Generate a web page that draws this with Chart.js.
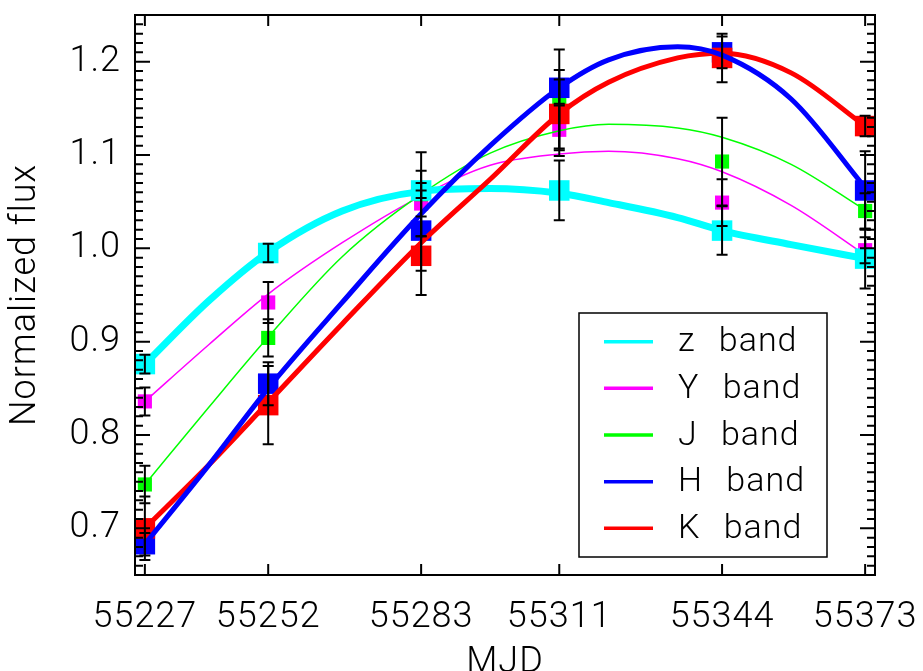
<!DOCTYPE html>
<html>
<head>
<meta charset="utf-8">
<script src="https://cdn.jsdelivr.net/npm/chart.js@4"></script>
<style>
html, body { margin: 0; padding: 0; background: #fff; overflow: hidden; }
#wrap { width: 923px; height: 685px; }
</style>
</head>
<body>
<div id="wrap"><canvas id="grafico"></canvas></div>
<script>
// observation epochs (MJD) and axis ticks
var mjd = [55227, 55252, 55283, 55311, 55344, 55373];
var yTicks = [0.7, 0.8, 0.9, 1.0, 1.1, 1.2];
var bandNames = ['z band', 'Y band', 'J band', 'H band', 'K band'];
var bandColors = ['#00ffff', '#ff00ff', '#00ff00', '#0000ff', '#ff0000'];

// measured normalized flux and errors
var fluxZ = [0.876, 0.995, 1.062, 1.062, 1.019, 0.989];
var fluxY = [0.836, 0.942, 1.048, 1.127, 1.049, 0.998];
var fluxJ = [0.747, 0.904, 1.058, 1.159, 1.093, 1.040];
var fluxH = [0.683, 0.855, 1.019, 1.172, 1.210, 1.062];
var fluxK = [0.700, 0.832, 0.992, 1.144, 1.204, 1.131];
var errZ = [0.010, 0.010, 0.008, 0.032, 0.026, 0.032];
var errY = [0.015, 0.022, 0.035, 0.028, 0.025, 0.014];
var errJ = [0.020, 0.020, 0.045, 0.054, 0.047, 0.019];
var errH = [0.012, 0.023, 0.043, 0.019, 0.017, 0.042];
var errK = [0.034, 0.042, 0.042, 0.037, 0.026, 0.011];

// fitted curves
var fitMjd = [55227, 55240, 55252, 55267, 55283, 55297, 55311, 55321, 55335, 55344, 55358, 55373];
var fitZ = [0.876, 0.944, 0.996, 1.040, 1.061, 1.064, 1.059, 1.049, 1.033, 1.019, 1.004, 0.989];
var fitY = [0.836, 0.897, 0.951, 1.006, 1.056, 1.089, 1.101, 1.104, 1.096, 1.082, 1.046, 0.993];
var fitJ = [0.747, 0.830, 0.905, 0.991, 1.058, 1.102, 1.126, 1.133, 1.129, 1.119, 1.090, 1.041];
var fitH = [0.683, 0.768, 0.850, 0.942, 1.037, 1.110, 1.172, 1.202, 1.216, 1.207, 1.160, 1.065];
var fitK = [0.700, 0.768, 0.835, 0.919, 1.006, 1.074, 1.144, 1.178, 1.204, 1.209, 1.188, 1.131];

var fontFamily = "Roboto, 'DejaVu Sans', sans-serif";
var bigFont = { family: fontFamily, size: 36, weight: 300 };

function pts(xs, ys) {
    return xs.map(function (x, i) { return { x: x, y: ys[i] }; });
}

function pointSet(k, ys, errs, r, order) {
    return {
        label: bandNames[k],
        data: pts(mjd, ys),
        errors: errs,
        showLine: false,
        pointStyle: 'rect',
        pointRadius: r,
        pointBorderWidth: 0,
        backgroundColor: bandColors[k],
        borderColor: bandColors[k],
        order: order
    };
}

function fitSet(k, ys, w, order) {
    return {
        label: bandNames[k] + ' fit',
        data: pts(fitMjd, ys),
        showLine: true,
        pointRadius: 0,
        borderWidth: w,
        borderColor: bandColors[k],
        backgroundColor: bandColors[k],
        cubicInterpolationMode: 'monotone',
        fill: false,
        order: order
    };
}

var datasets = [
    fitSet(3, fitH, 5, 1),
    fitSet(4, fitK, 5, 2),
    pointSet(4, fluxK, errK, 14.5, 3),
    pointSet(3, fluxH, errH, 14.5, 4),
    pointSet(0, fluxZ, errZ, 14.5, 5),
    fitSet(0, fitZ, 7, 6),
    fitSet(2, fitJ, 1.5, 7),
    fitSet(1, fitY, 1.5, 8),
    pointSet(2, fluxJ, errJ, 10, 9),
    pointSet(1, fluxY, errY, 10, 10)
];

var framePlugin = {
    id: 'frame',
    beforeDraw: function (chart) {
        if ('letterSpacing' in chart.ctx) chart.ctx.letterSpacing = '1px';
    },
    afterDatasetsDraw: function (chart) {
        var ctx = chart.ctx;
        var xs = chart.scales.x, ys = chart.scales.y;
        var a = chart.chartArea;
        ctx.save();
        // error bars
        ctx.strokeStyle = '#000';
        ctx.lineWidth = 2;
        chart.data.datasets.forEach(function (ds) {
            if (!ds.errors) return;
            ds.data.forEach(function (p, i) {
                var x = xs.getPixelForValue(p.x);
                var y1 = ys.getPixelForValue(p.y + ds.errors[i]);
                var y2 = ys.getPixelForValue(p.y - ds.errors[i]);
                ctx.beginPath();
                ctx.moveTo(x, y1); ctx.lineTo(x, y2);
                ctx.moveTo(x - 5.5, y1); ctx.lineTo(x + 5.5, y1);
                ctx.moveTo(x - 5.5, y2); ctx.lineTo(x + 5.5, y2);
                ctx.stroke();
            });
        });
        // box and inward ticks
        ctx.lineWidth = 2;
        ctx.strokeRect(a.left, a.top, a.right - a.left, a.bottom - a.top);
        ctx.beginPath();
        mjd.forEach(function (v) {
            var x = xs.getPixelForValue(v);
            ctx.moveTo(x, a.bottom); ctx.lineTo(x, a.bottom - 11);
            ctx.moveTo(x, a.top); ctx.lineTo(x, a.top + 11);
        });
        for (var i = 65; i <= 125; i++) {
            var y = ys.getPixelForValue(i / 100);
            var len = (i % 10 === 0) ? 15 : 8;
            ctx.moveTo(a.left, y); ctx.lineTo(a.left + len, y);
            ctx.moveTo(a.right, y); ctx.lineTo(a.right - len, y);
        }
        ctx.stroke();
        // legend
        var bx = 579, by = 313, bw = 248, bh = 244;
        ctx.fillStyle = '#fff';
        ctx.fillRect(bx, by, bw, bh);
        ctx.lineWidth = 1.5;
        ctx.strokeRect(bx, by, bw, bh);
        ctx.font = '300 34px ' + fontFamily;
        ctx.textBaseline = 'middle';
        ctx.textAlign = 'left';
        if ('wordSpacing' in ctx) ctx.wordSpacing = '14px';
        bandNames.forEach(function (name, k) {
            var cy = 341.7 + k * 46.65;
            ctx.strokeStyle = bandColors[k];
            ctx.lineWidth = 3.5;
            ctx.beginPath();
            ctx.moveTo(604, cy); ctx.lineTo(653, cy);
            ctx.stroke();
            ctx.fillStyle = '#000';
            ctx.fillText(name, 678, cy + 1);
        });
        ctx.restore();
    }
};

var ctx = document.querySelector('#grafico').getContext('2d');
var chart = new Chart(ctx, {
    type: 'scatter',
    data: { datasets: datasets },
    options: {
        responsive: true,
        maintainAspectRatio: false,
        animation: false,
        devicePixelRatio: 1,
        layout: { padding: { top: 15, right: 48, left: 0, bottom: 0 } },
        plugins: { legend: { display: false }, tooltip: { enabled: false } },
        scales: {
            x: {
                type: 'linear',
                min: 55225,
                max: 55375,
                afterBuildTicks: function (s) { s.ticks = mjd.map(function (v) { return { value: v }; }); },
                afterFit: function (s) { s.height = 110; s.paddingLeft = 0; s.paddingRight = 0; },
                grid: { display: false, drawTicks: false },
                border: { display: false },
                ticks: {
                    autoSkip: false, maxRotation: 0, minRotation: 0, padding: 21,
                    color: '#000', font: bigFont,
                    callback: function (v) { return String(v); }
                },
                title: { display: true, text: 'MJD', color: '#000', font: bigFont, padding: { top: 0, bottom: 0 } }
            },
            y: {
                type: 'linear',
                min: 0.65,
                max: 1.25,
                afterBuildTicks: function (s) { s.ticks = yTicks.map(function (v) { return { value: v }; }); },
                afterFit: function (s) { s.width = 135; s.paddingTop = 0; s.paddingBottom = 0; },
                grid: { display: false, drawTicks: false },
                border: { display: false },
                ticks: {
                    padding: 14, color: '#000', font: bigFont,
                    callback: function (v) { return v.toFixed(1); }
                },
                title: { display: true, text: 'Normalized flux', color: '#000', font: bigFont, padding: { top: 4, bottom: 0 } }
            }
        }
    },
    plugins: [framePlugin]
});
</script>
</body>
</html>
